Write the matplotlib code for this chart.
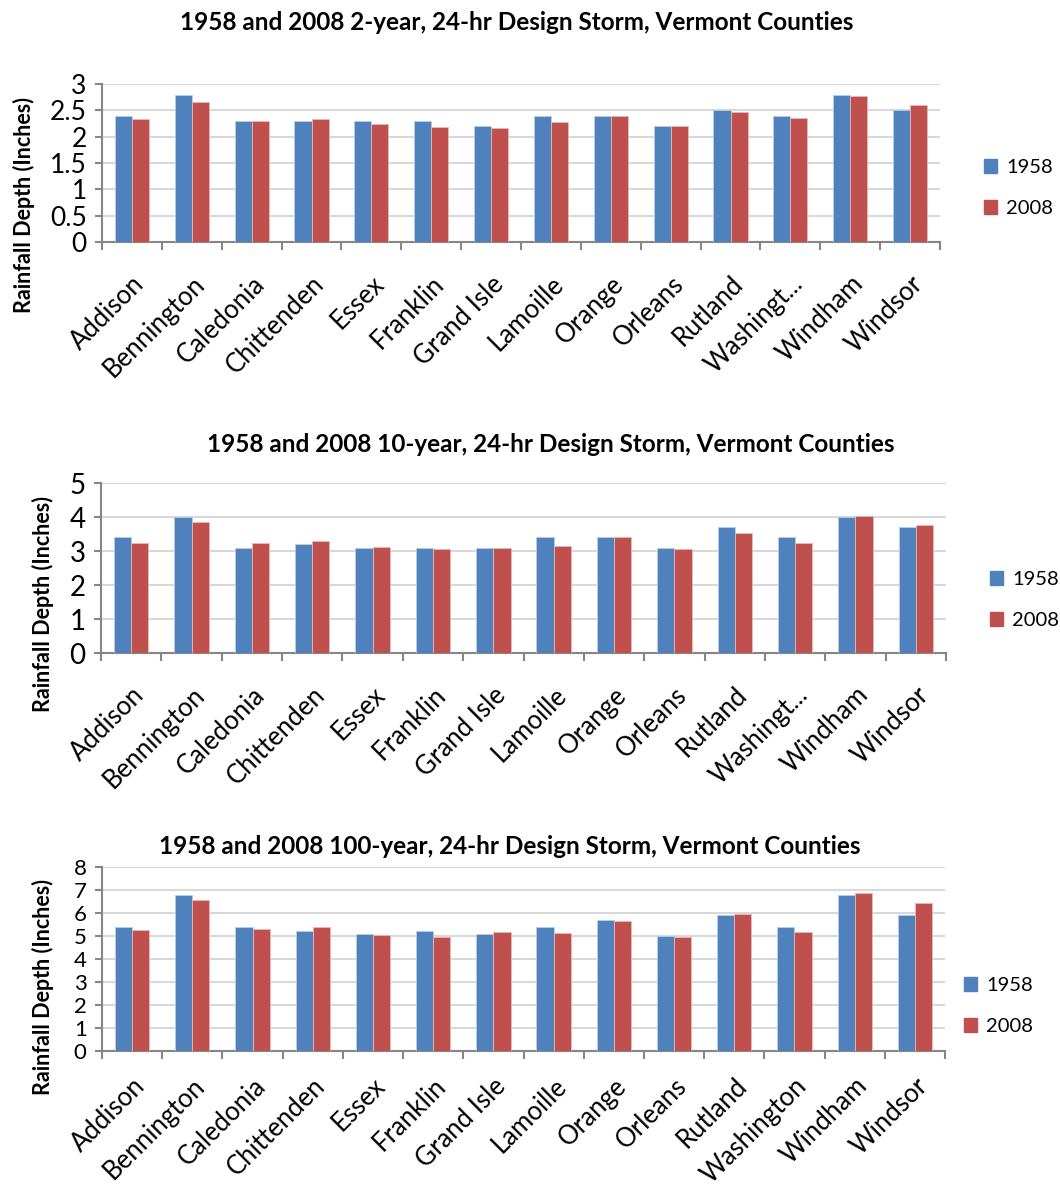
import matplotlib
matplotlib.use("Agg")
import matplotlib.pyplot as plt
import numpy as np
from matplotlib.patches import Patch

plt.rcParams["font.family"] = ["Lato", "DejaVu Sans"]

counties = ["Addison", "Bennington", "Caledonia", "Chittenden", "Essex", "Franklin",
            "Grand Isle", "Lamoille", "Orange", "Orleans", "Rutland", "Washington",
            "Windham", "Windsor"]

# 2-year, 24-hr storm (inches)
y2_1958 = [2.4, 2.8, 2.3, 2.3, 2.3, 2.3, 2.2, 2.4, 2.4, 2.2, 2.5, 2.4, 2.8, 2.5]
y2_2008 = [2.33, 2.66, 2.3, 2.33, 2.24, 2.18, 2.17, 2.27, 2.4, 2.2, 2.46, 2.35, 2.78, 2.61]

# 10-year, 24-hr storm
y10_1958 = [3.4, 4.0, 3.1, 3.2, 3.1, 3.1, 3.1, 3.4, 3.4, 3.1, 3.7, 3.4, 4.0, 3.7]
y10_2008 = [3.25, 3.86, 3.25, 3.28, 3.12, 3.07, 3.1, 3.16, 3.41, 3.06, 3.54, 3.25, 4.04, 3.77]

# 100-year, 24-hr storm
y100_1958 = [5.4, 6.8, 5.4, 5.2, 5.1, 5.2, 5.1, 5.4, 5.7, 5.0, 5.9, 5.4, 6.8, 5.9]
y100_2008 = [5.27, 6.57, 5.32, 5.4, 5.05, 4.97, 5.18, 5.15, 5.66, 4.95, 5.95, 5.18, 6.87, 6.43]

BLUE = "#4F81BD"
RED = "#C0504D"
W, H = 1060, 1187

panels = [
    dict(title="1958 and 2008 2-year, 24-hr Design Storm, Vermont Counties",
         a=y2_1958, b=y2_2008, ymax=3, step=0.5, wash="Washingt...",
         box=(102, 84, 940, 242), title_xy=(517, 23), ylab_xy=(24, 205),
         leg_xy=(984, 188), xpad=21, yfs=19),
    dict(title="1958 and 2008 10-year, 24-hr Design Storm, Vermont Counties",
         a=y10_1958, b=y10_2008, ymax=5, step=1, wash="Washingt...",
         box=(101, 483, 946, 653), title_xy=(551, 445), ylab_xy=(43, 604),
         leg_xy=(990, 600), xpad=21, yfs=20),
    dict(title="1958 and 2008 100-year, 24-hr Design Storm, Vermont Counties",
         a=y100_1958, b=y100_2008, ymax=8, step=1, wash="Washington",
         box=(102, 867, 945, 1051), title_xy=(510, 847), ylab_xy=(43, 987),
         leg_xy=(964, 1006), xpad=16, yfs=16),
]

fig = plt.figure(figsize=(W / 100, H / 100), dpi=100)
x = np.arange(len(counties))
bw = 0.285

for p in panels:
    l, t, r, b = p["box"]
    ax = fig.add_axes([l / W, 1 - b / H, (r - l) / W, (b - t) / H])
    ax.bar(x - bw / 2, p["a"], bw, color=BLUE, edgecolor="#B9CDE5", linewidth=0.6, zorder=3)
    ax.bar(x + bw / 2, p["b"], bw, color=RED, edgecolor="#E6B9B8", linewidth=0.6, zorder=3)
    ax.set_xlim(-0.5, len(counties) - 0.5)
    ax.set_ylim(0, p["ymax"])
    yt = np.arange(0, p["ymax"] + p["step"] / 2, p["step"])
    ax.set_yticks(yt)
    ax.set_yticklabels([f"{v:g}" for v in yt], fontsize=p["yfs"])
    ax.grid(axis="y", color="#D9D9D9", linewidth=1.5, zorder=0)
    for s in ["top", "right"]:
        ax.spines[s].set_visible(False)
    for s in ["left", "bottom"]:
        ax.spines[s].set_color("#868686")
        ax.spines[s].set_linewidth(1.5)
    ax.tick_params(axis="y", length=5, color="#868686", width=1.5, pad=6)
    # category labels at centers, tick marks at boundaries
    labels = counties[:11] + [p["wash"]] + counties[12:]
    ax.set_xticks(x)
    ax.set_xticklabels(labels, rotation=45, ha="right", rotation_mode="anchor", fontsize=18.5)
    ax.tick_params(axis="x", length=0, pad=p["xpad"])
    ax.set_xticks(np.arange(-0.5, len(counties)), minor=True)
    ax.tick_params(axis="x", which="minor", length=6, color="#868686", width=1.5)

    fig.text(p["title_xy"][0] / W, 1 - p["title_xy"][1] / H, p["title"],
             ha="center", va="center", fontsize=17.5, fontweight="bold")
    fig.text(p["ylab_xy"][0] / W, 1 - p["ylab_xy"][1] / H, "Rainfall Depth (Inches)",
             ha="center", va="center", rotation=90, fontsize=15.5, fontweight="bold")
    handles = [Patch(color=BLUE, label="1958"), Patch(color=RED, label="2008")]
    ax.legend(handles=handles, loc="center left",
              bbox_to_anchor=(p["leg_xy"][0] / W, 1 - p["leg_xy"][1] / H),
              bbox_transform=fig.transFigure, frameon=False, fontsize=14.5,
              handlelength=0.65, handleheight=0.65, labelspacing=1.2,
              handletextpad=0.45, borderaxespad=0, borderpad=0)

fig.savefig("out.png", dpi=100)
